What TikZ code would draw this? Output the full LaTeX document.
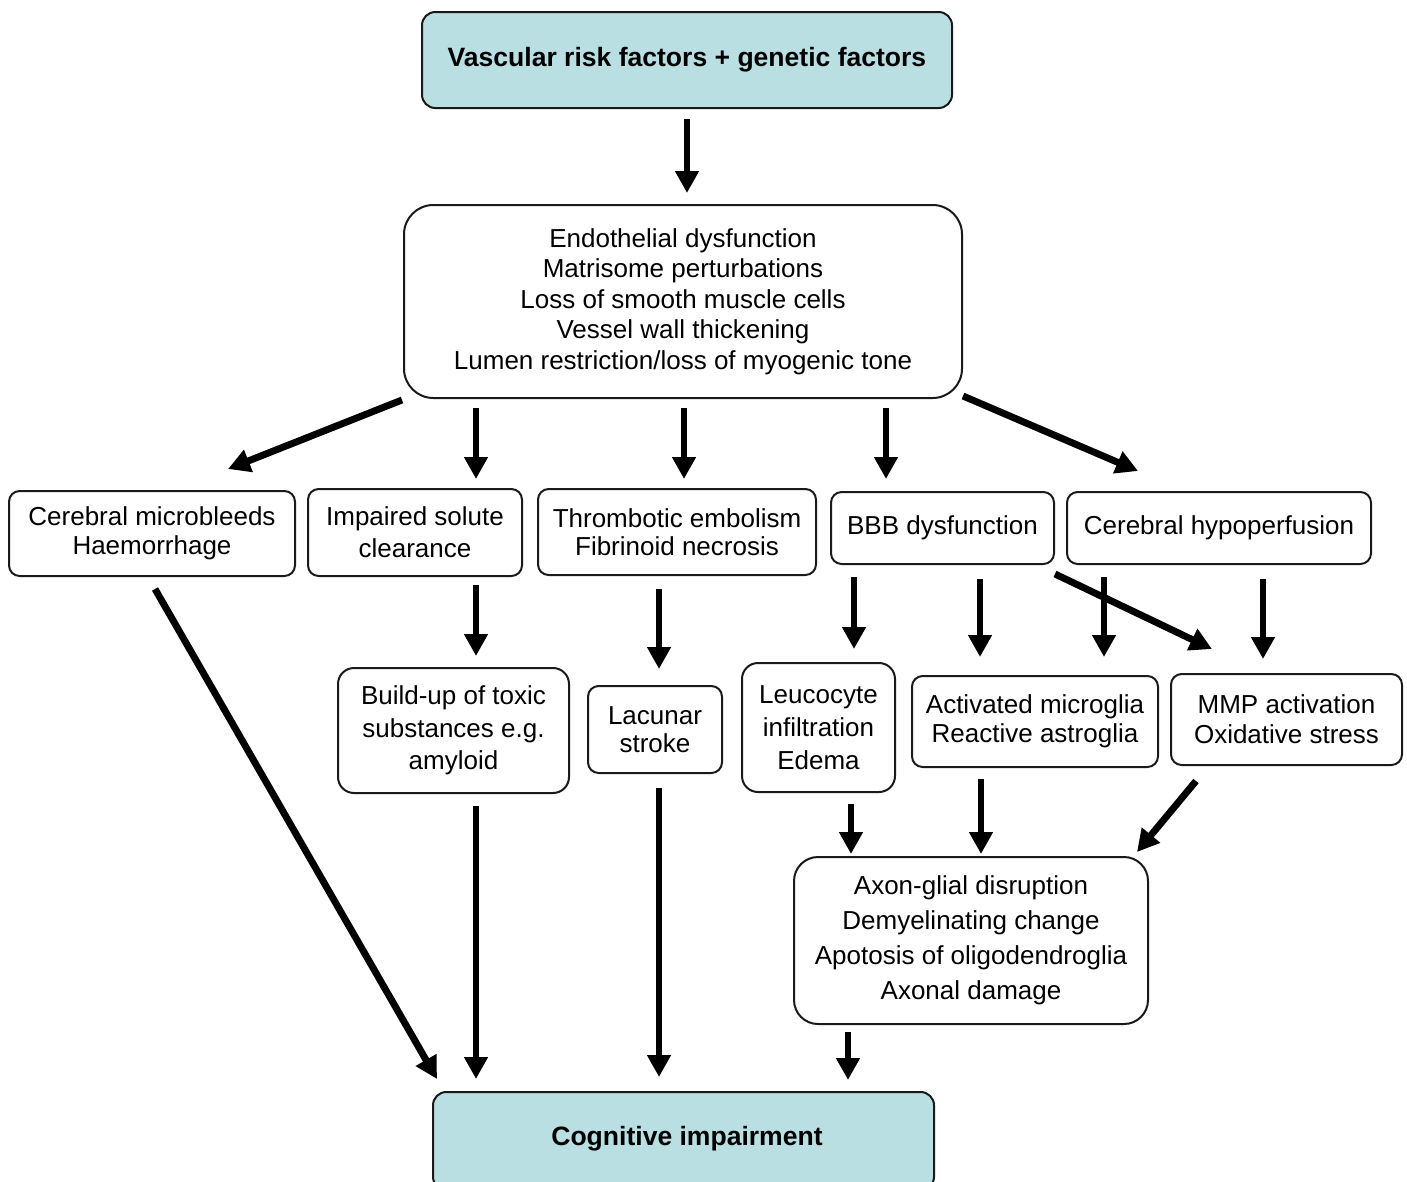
\documentclass[tikz,border=0pt]{standalone}
\usepackage{fontspec}
\setmainfont{Liberation Sans}
\usetikzlibrary{arrows.meta,calc}
\definecolor{teal1}{HTML}{B9DFE2}
\definecolor{edge}{HTML}{1A1A1A}
\begin{document}
\begin{tikzpicture}[x=0.75pt,y=-0.75pt,
  box/.style={draw=edge,line width=1.5pt,rounded corners=8pt,align=center,inner sep=0pt,
    font=\fontsize{19.5}{22.5}\selectfont},
  arr/.style={line width=5.2pt,-{Triangle[width=17pt,length=16.5pt]}},
  ]
\useasboundingbox (0,0) rectangle (1407,1182);
\fill[white] (0,0) rectangle (1407,1182);
% top row
\node[box,fill=teal1,rounded corners=10pt,minimum width=397.5pt,minimum height=72pt,font=\fontsize{19.9}{22.5}\selectfont\bfseries]
  (top) at (687,60) {Vascular risk factors + genetic factors};
\node[box,rounded corners=22pt,minimum width=418.5pt,minimum height=144.75pt,font=\fontsize{19.5}{22.9}\selectfont]
  (endo) at (683,301.5) {Endothelial dysfunction\\Matrisome perturbations\\Loss of smooth muscle cells\\Vessel wall thickening\\Lumen restriction/loss of myogenic tone};
% second row
\node[box,minimum width=214.5pt,minimum height=63.75pt,font=\fontsize{19.5}{21.75}\selectfont]
  (micro) at (152,533.5) {Cerebral microbleeds\\Haemorrhage};
\node[box,minimum width=160.5pt,minimum height=65.25pt,font=\fontsize{19.5}{24}\selectfont]
  (imp) at (415,532.5) {Impaired solute\\clearance};
\node[box,minimum width=208.5pt,minimum height=64.5pt,font=\fontsize{19.5}{21}\selectfont]
  (thromb) at (677,532) {Thrombotic embolism\\Fibrinoid necrosis};
\node[box,minimum width=167.25pt,minimum height=54pt]
  (bbb) at (942.5,528) {BBB dysfunction};
\node[box,minimum width=228pt,minimum height=54pt]
  (hypo) at (1219,528) {Cerebral hypoperfusion};
% third row
\node[box,rounded corners=12pt,minimum width=173.25pt,minimum height=93.75pt,font=\fontsize{19.5}{24.4}\selectfont]
  (build) at (453.5,730.5) {Build-up of toxic\\substances e.g.\\amyloid};
\node[box,minimum width=100.5pt,minimum height=65.25pt,font=\fontsize{19.5}{21}\selectfont]
  (lac) at (655,729.5) {Lacunar\\stroke};
\node[box,rounded corners=12pt,minimum width=114.75pt,minimum height=96.75pt,font=\fontsize{19.5}{24.75}\selectfont]
  (leuco) at (818.5,727.5) {Leucocyte\\infiltration\\Edema};
\node[box,minimum width=184.5pt,minimum height=68.25pt,font=\fontsize{19.5}{21.75}\selectfont]
  (act) at (1035,721.5) {Activated microglia\\Reactive astroglia};
\node[box,minimum width=173.25pt,minimum height=68.25pt]
  (mmp) at (1286.5,719.5) {MMP activation\\Oxidative stress};
% axon
\node[box,rounded corners=18pt,minimum width=265.5pt,minimum height=125.25pt,font=\fontsize{19.5}{26.25}\selectfont]
  (axon) at (971,940.5) {Axon-glial disruption\\Demyelinating change\\Apotosis of oligodendroglia\\Axonal damage};
% bottom
\node[box,fill=teal1,rounded corners=10pt,minimum width=375.75pt,minimum height=73.5pt]
  (cog) at (683.5,1141) {};
\node[font=\fontsize{19.9}{22.5}\selectfont\bfseries,inner sep=0pt] (cogt) at (687,1139) {Cognitive impairment};
% arrows
\draw[arr] ($(top.south)+(0,10)$) -- ($(endo.north)+(4,-11)$);
\draw[arr] ($(endo.south west)+(-1,1)$) -- ($(micro.north)+(76,-21)$);
\draw[arr] ($(endo.south)+(-207,9)$) -- ($(imp.north)+(61,-9)$);
\draw[arr] ($(endo.south)+(1,9)$) -- ($(thromb.north)+(7,-9)$);
\draw[arr] ($(endo.south)+(203,9)$) -- ($(bbb.north)+(-56.5,-12)$);
\draw[arr] ($(endo.south east)+(0,-3)$) -- ($(hypo.north)+(-81,-20)$);
\draw[arr] ($(micro.south)+(3,12)$) -- ($(cog.north west)+(5,-12)$);
\draw[arr] ($(imp.south)+(61,8)$) -- ($(build.north)+(22.5,-11)$);
\draw[arr] ($(thromb.south)+(-18,13)$) -- ($(lac.north)+(4,-16)$);
\draw[arr] ($(bbb.south)+(-88.5,12)$) -- ($(leuco.north)+(35.5,-13)$);
\draw[arr] ($(bbb.south)+(37.5,14)$) -- ($(act.north)+(-55,-18)$);
\draw[arr] ($(bbb.south east)+(0,9)$) -- ($(mmp.north)+(-74.5,-24)$);
\draw[arr] ($(hypo.south)+(-115,12)$) -- ($(act.north)+(69,-18)$);
\draw[arr] ($(hypo.south)+(44,14)$) -- ($(mmp.north)+(-23.5,-14)$);
\draw[arr] ($(build.south)+(22.5,12)$) -- ($(cog.north)+(-207.5,-12)$);
\draw[arr] ($(lac.south)+(4,14)$) -- ($(cog.north)+(-24.5,-14)$);
\draw[arr] ($(leuco.south)+(32.5,11)$) -- ($(axon.north)+(-120,-2)$);
\draw[arr] ($(act.south)+(-54,11)$) -- ($(axon.north)+(10,-2)$);
\draw[arr] ($(mmp.south west)+(26,15)$) -- ($(axon.north east)+(-12,-4)$);
\draw[arr] ($(axon.south)+(-123,7)$) -- ($(cog.north)+(164.5,-11)$);
\end{tikzpicture}
\end{document}
